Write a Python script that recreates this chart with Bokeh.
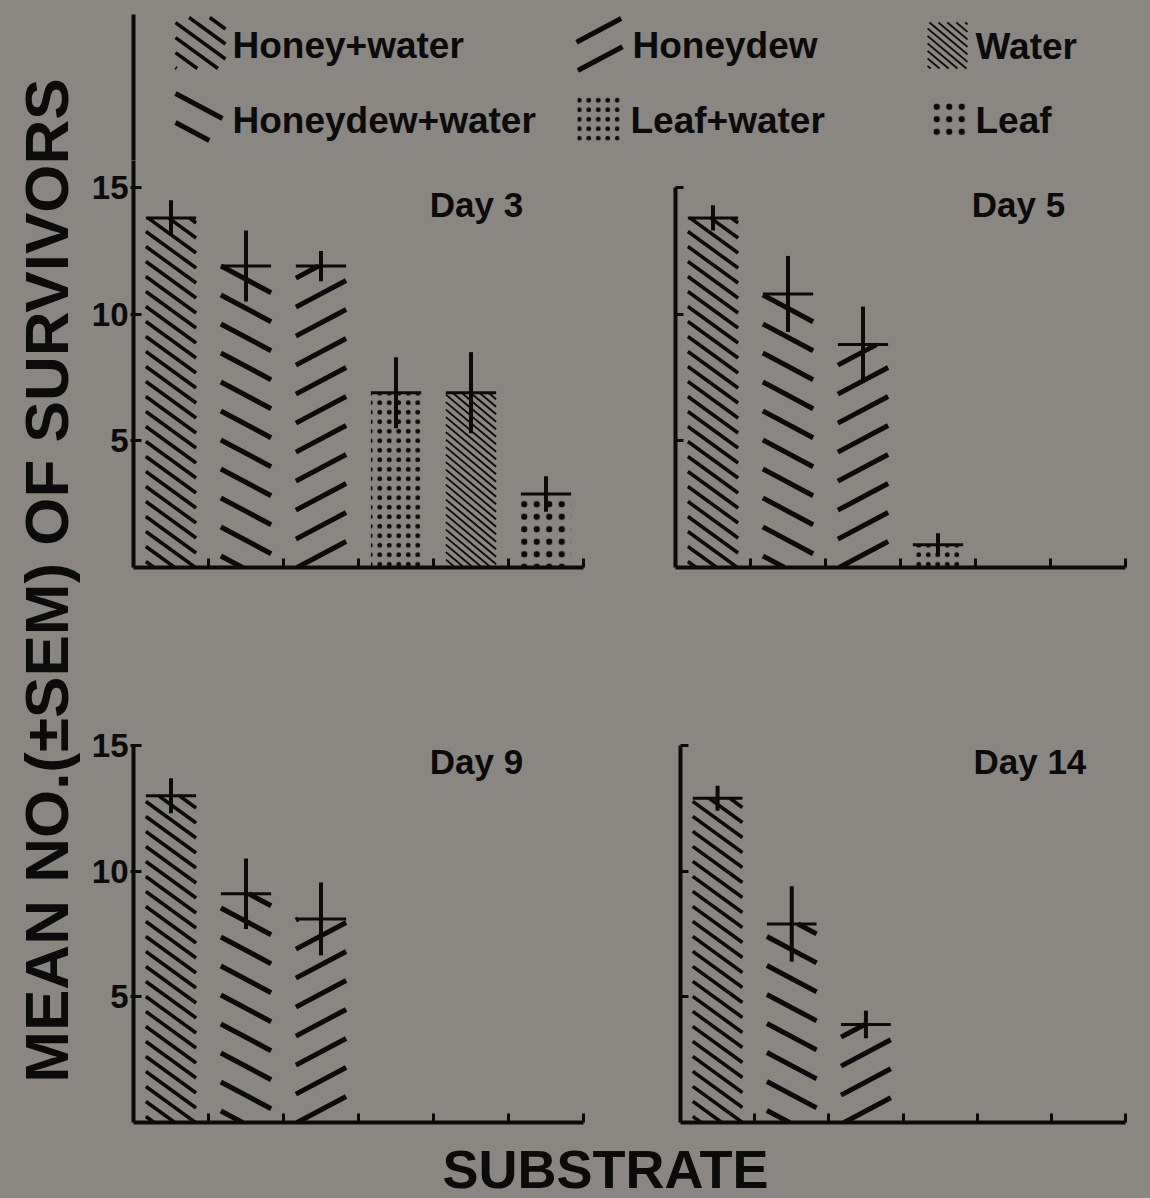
import math
from bokeh.plotting import figure
from bokeh.layouts import row, column
from bokeh.models import Range1d, FixedTicker, ColumnDataSource
from bokeh.core.properties import value
from bokeh.embed import file_html
from bokeh.resources import INLINE

# ---------------- data ----------------
substrates = ["Honey+water", "Honeydew+water", "Honeydew", "Leaf+water", "Water", "Leaf"]
day_titles = ["Day 3", "Day 5", "Day 9", "Day 14"]
day3_mean = [13.8, 11.9, 11.9, 6.9, 6.9, 2.9]
day3_sem = [0.7, 1.4, 0.6, 1.4, 1.6, 0.7]
day5_mean = [13.8, 10.8, 8.8, 0.9, 0.0, 0.0]
day5_sem = [0.5, 1.5, 1.5, 0.45, 0.0, 0.0]
day9_mean = [13.0, 9.1, 8.1, 0.0, 0.0, 0.0]
day9_sem = [0.7, 1.4, 1.45, 0.0, 0.0, 0.0]
day14_mean = [12.9, 7.9, 3.9, 0.0, 0.0, 0.0]
day14_sem = [0.5, 1.5, 0.55, 0.0, 0.0, 0.0]
y_ticks = [5, 10, 15]
y_label = "MEAN NO.(\u00b1SEM) OF SURVIVORS"
x_label = "SUBSTRATE"

# ---------------- style ----------------
BG = "#8a8681"
INK = "#0b0b0b"
FONT = "Liberation Sans"
BAR_W = 0.67

# line hatches: (direction, angle in degrees, vertical period px, line width px)
line_hatch = {
    "Honey+water": ("\\", 36, 15, 3.5),
    "Honeydew+water": ("\\", 28, 29, 5),
    "Honeydew": ("/", 28, 29, 5),
    "Water": ("\\", 40, 7.5, 1.8),
}
# dot hatches (bokeh hatch pattern)
dot_hatch = {
    "Leaf+water": dict(hatch_pattern=".", hatch_scale=9.5, hatch_weight=1),
    "Leaf": dict(hatch_pattern=".", hatch_scale=12.5, hatch_weight=1),
}


def hatch_lines(X0, X1, Y0, Y1, direction, angle_deg, period):
    """Clip a family of parallel lines to the rectangle [X0,X1]x[Y0,Y1] (pixel space, y up)."""
    k = math.tan(math.radians(angle_deg))
    sg = 1.0 if direction == "/" else -1.0
    cs = [Y - sg * k * X for X in (X0, X1) for Y in (Y0, Y1)]
    segs = []
    for n in range(math.ceil(min(cs) / period), math.floor(max(cs) / period) + 1):
        cc = n * period
        if sg > 0:
            xa, xb = (Y0 - cc) / k, (Y1 - cc) / k
        else:
            xa, xb = (cc - Y1) / k, (cc - Y0) / k
        lo, hi = max(X0, xa), min(X1, xb)
        if hi - lo > 0.8:
            segs.append((lo, sg * k * lo + cc, hi, sg * k * hi + cc))
    return segs


def style_fig(p):
    p.background_fill_color = BG
    p.border_fill_color = BG
    p.outline_line_color = None
    p.grid.visible = False


def make_panel(title, means, sems, width, height, mbl, mbr, mbt, mbb, y_end, left_side, axis_top):
    p = figure(width=width, height=height, x_range=Range1d(0, 6), y_range=Range1d(0, y_end),
               output_backend="svg", toolbar_location=None, title=None,
               min_border_left=mbl, min_border_right=mbr, min_border_top=mbt, min_border_bottom=mbb)
    style_fig(p)
    sx = (width - mbl - mbr) / 6.0
    sy = (height - mbt - mbb) / y_end

    xa = p.xaxis[0]
    xa.ticker = FixedTicker(ticks=[1, 2, 3, 4, 5, 6])
    xa.major_tick_in = 9
    xa.major_tick_out = 0
    xa.major_tick_line_width = 3
    xa.major_tick_line_color = INK
    xa.axis_line_width = 4
    xa.axis_line_color = INK
    xa.minor_tick_line_color = None
    xa.major_label_text_color = None

    ya = p.yaxis[0]
    ya.ticker = FixedTicker(ticks=y_ticks)
    ya.axis_line_width = 4
    ya.axis_line_color = INK
    ya.minor_tick_line_color = None
    ya.major_tick_line_width = 3
    ya.major_tick_line_color = INK
    ya.major_tick_in = 8
    ya.bounds = (0, axis_top)
    if left_side:
        ya.major_tick_out = 3
        ya.major_label_standoff = 2
        ya.major_label_text_font = FONT
        ya.major_label_text_font_style = "bold"
        ya.major_label_text_font_size = "33px"
        ya.major_label_text_color = INK
    else:
        ya.major_tick_out = 0
        ya.major_label_text_color = None

    for i, name in enumerate(substrates):
        m = means[i]
        e = sems[i]
        if m <= 0:
            continue
        ctr = i + 0.5
        left, right = ctr - BAR_W / 2, ctr + BAR_W / 2
        src = ColumnDataSource(dict(l=[left], r=[right], t=[m], b=[0], c=[ctr], lo=[m - e], hi=[m + e]))
        if name in dot_hatch:
            p.quad(left="l", right="r", top="t", bottom="b", source=src,
                   fill_color=None, line_color=None, hatch_color=INK, **dot_hatch[name])
        else:
            p.quad(left="l", right="r", top="t", bottom="b", source=src,
                   fill_color=None, line_color=None)
            d, ang, per, lw = line_hatch[name]
            segs = hatch_lines(left * sx, right * sx, 0, m * sy, d, ang, per)
            p.segment(x0=[g[0] / sx for g in segs], y0=[g[1] / sy for g in segs],
                      x1=[g[2] / sx for g in segs], y1=[g[3] / sy for g in segs],
                      line_color=INK, line_width=lw, line_cap="butt")
        p.segment(x0="l", x1="r", y0="t", y1="t", source=src, line_color=INK, line_width=3)
        p.segment(x0="c", x1="c", y0="lo", y1="hi", source=src, line_color=INK, line_width=4)

    p.text(x=[3.95], y=[14.35], text=[title], text_font=value(FONT), text_font_style="bold",
           text_font_size="35px", text_color=INK, text_baseline="middle", text_align="left")
    return p


TOP_END = 407 / 25.33
# top row: figures from y=160 to 600 (height 440); baseline at 567
p1 = make_panel(day_titles[0], day3_mean, day3_sem, 520, 440, 53, 17, 0, 33, TOP_END, True, TOP_END)
p2 = make_panel(day_titles[1], day5_mean, day5_sem, 550, 440, 75, 25, 0, 33, TOP_END, False, 15)
# bottom row: figures from y=600 to 1140 (height 540); baseline at 1122
p3 = make_panel(day_titles[2], day9_mean, day9_sem, 520, 540, 53, 17, 145, 18, 15, True, 15)
p4 = make_panel(day_titles[3], day14_mean, day14_sem, 550, 540, 80, 25, 145, 18, 15, False, 15)

# ---------------- legend ----------------
leg = figure(width=1070, height=160, x_range=Range1d(80, 1150), y_range=Range1d(160, 0),
             output_backend="svg", toolbar_location=None, title=None,
             x_axis_location=None, y_axis_location=None,
             min_border=0, min_border_left=0, min_border_right=0, min_border_top=0, min_border_bottom=0)
style_fig(leg)
legend_layout = {
    "Honey+water": ((175, 225, 17, 68), (232, 45)),
    "Honeydew": ((576, 622, 18, 70), (632, 45)),
    "Water": ((927, 967, 22, 68), (975, 46)),
    "Honeydew+water": ((175, 222, 93, 140), (232, 120)),
    "Leaf+water": ((577, 619, 95, 140), (630, 120)),
    "Leaf": ((930, 967, 98, 138), (975, 120)),
}
for name in substrates:
    (x0, x1, y0, y1), (tx, ty) = legend_layout[name]
    if name in dot_hatch:
        leg.quad(left=[x0], right=[x1], top=[y0], bottom=[y1], fill_color=None, line_color=None,
                 hatch_color=INK, **dot_hatch[name])
    else:
        d, ang, per, lw = line_hatch[name]
        segs = hatch_lines(x0, x1, -y1, -y0, d, ang, per)
        leg.segment(x0=[g[0] for g in segs], y0=[-g[1] for g in segs],
                    x1=[g[2] for g in segs], y1=[-g[3] for g in segs],
                    line_color=INK, line_width=lw, line_cap="butt")
    leg.text(x=[tx], y=[ty], text=[name], text_font=value(FONT), text_font_style="bold",
             text_font_size="37px", text_color=INK, text_baseline="middle", text_align="left")
leg.segment(x0=[133], x1=[133], y0=[14], y1=[160], line_color=INK, line_width=4)

# ---------------- axis titles ----------------
ylab = figure(width=80, height=1198, x_range=Range1d(0, 1), y_range=Range1d(0, 1),
              output_backend="svg", toolbar_location=None, title=None,
              x_axis_location=None, y_axis_location="left",
              min_border=0, min_border_left=76, min_border_right=0, min_border_top=0, min_border_bottom=38)
style_fig(ylab)
yl = ylab.yaxis[0]
yl.ticker = FixedTicker(ticks=[])
yl.axis_line_color = None
yl.major_tick_line_color = None
yl.minor_tick_line_color = None
yl.major_tick_in = 0
yl.major_tick_out = 0
yl.major_label_text_color = None
yl.axis_label = y_label
yl.axis_label_text_font = FONT
yl.axis_label_text_font_style = "bold"
yl.axis_label_text_font_size = "62px"
yl.axis_label_text_color = INK
yl.axis_label_standoff = -4

xlab = figure(width=1070, height=58, x_range=Range1d(80, 1150), y_range=Range1d(1198, 1140),
              output_backend="svg", toolbar_location=None, title=None,
              x_axis_location=None, y_axis_location=None,
              min_border=0, min_border_left=0, min_border_right=0, min_border_top=0, min_border_bottom=0)
style_fig(xlab)
xlab.text(x=[605], y=[1168], text=[x_label], text_font=value(FONT), text_font_style="bold",
          text_font_size="54px", text_color=INK, text_align="center", text_baseline="middle")

layout = row(ylab, column(leg, row(p1, p2), row(p3, p4), xlab), styles={"background-color": BG})

html = file_html(layout, INLINE)
html = html.replace("<body>", '<body style="margin:0;background-color:%s">' % BG, 1)
with open("out.html", "w") as f:
    f.write(html)
